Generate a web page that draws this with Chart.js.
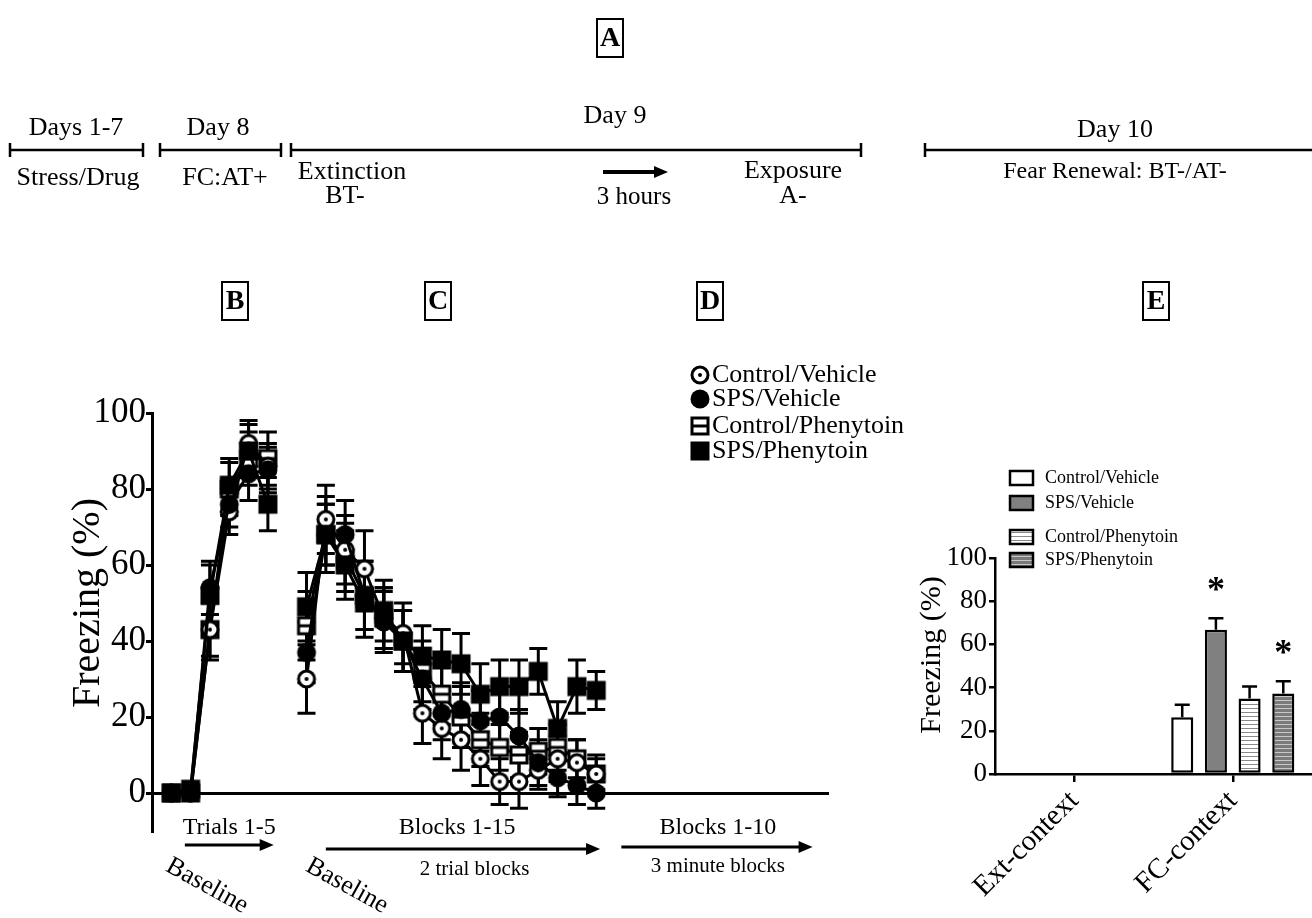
<!DOCTYPE html>
<html>
<head>
<meta charset="utf-8">
<script src="https://cdn.jsdelivr.net/npm/chart.js@4.4.1/dist/chart.umd.min.js"></script>
<style>
html, body { margin: 0; padding: 0; background: #fff; }
#wrap { position: relative; width: 1312px; height: 918px; overflow: hidden; }
#wrap canvas { position: absolute; left: 0; top: 0; }
</style>
</head>
<body>
<div id="wrap">
  <canvas id="graficoLinha" width="1312" height="918"></canvas>
  <canvas id="graficoBarra" width="1312" height="918"></canvas>
</div>
<script>
// posicoes no eixo x: 0 = baseline, 1-5 = trials, 6 = intervalo, 7 = baseline da extincao, 8-22 = blocks 1-15
const slots = [0, 1, 2, 3, 4, 5, 6, 7, 8, 9, 10, 11, 12, 13, 14, 15, 16, 17, 18, 19, 20, 21, 22];
const grupos = ['Control/Vehicle', 'SPS/Vehicle', 'Control/Phenytoin', 'SPS/Phenytoin'];

const controlVehicle   = [0, 0, 43, 74, 92, 86, null, 30, 72, 64, 59, 46, 42, 21, 17, 14, 9, 3, 3, 6, 9, 8, 5];
const spsVehicle       = [0, 0, 54, 76, 84, 85, null, 37, 68, 68, 52, 45, 40, 30, 21, 22, 19, 20, 15, 8, 4, 2, 0];
const controlPhenytoin = [0, 0, 43, 80, 88, 88, null, 44, 68, 62, 52, 46, 40, 32, 26, 20, 14, 12, 10, 11, 12, 9, 5];
const spsPhenytoin     = [0, 1, 52, 81, 90, 76, null, 49, 68, 60, 50, 48, 40, 36, 35, 34, 26, 28, 28, 32, 17, 28, 27];

const erroControlVehicle   = [0, 0, 8, 6, 6, 6, null, 9, 9, 9, 10, 8, 8, 8, 8, 8, 7, 6, 7, 5, 6, 6, 4];
const erroSpsVehicle       = [0, 0, 7, 6, 7, 6, null, 8, 10, 9, 9, 8, 8, 8, 7, 7, 8, 8, 7, 6, 5, 5, 4];
const erroControlPhenytoin = [0, 0, 7, 7, 7, 7, null, 9, 8, 9, 9, 8, 8, 8, 8, 8, 7, 6, 6, 6, 6, 5, 5];
const erroSpsPhenytoin     = [0, 0, 8, 7, 7, 7, null, 9, 8, 9, 9, 8, 8, 8, 8, 8, 8, 7, 7, 6, 7, 7, 5];

const yTicks = [0, 20, 40, 60, 80, 100];

// painel E
const contextos = ['Ext-context', 'FC-context'];
const barControlVehicle   = [null, 26.3];
const barSpsVehicle       = [null, 66.8];
const barControlPhenytoin = [null, 35];
const barSpsPhenytoin     = [null, 37.3];
const erroBarControlVehicle   = [null, 5.8];
const erroBarSpsVehicle       = [null, 5.3];
const erroBarControlPhenytoin = [null, 5.5];
const erroBarSpsPhenytoin     = [null, 5.6];
const marcasSignificancia = [['', ''], ['', '*'], ['', ''], ['', '*']];

const serif = 'Liberation Serif';
Chart.defaults.font.family = serif;
Chart.defaults.color = '#000';

function marcador(tipo) {
    const c = document.createElement('canvas');
    c.width = 22; c.height = 22;
    const g = c.getContext('2d');
    g.lineWidth = 3; g.strokeStyle = '#000'; g.fillStyle = '#000';
    if (tipo === 'circuloAberto') {
        g.beginPath(); g.arc(11, 11, 8, 0, Math.PI * 2);
        g.fillStyle = '#fff'; g.fill(); g.stroke();
        g.beginPath(); g.arc(11, 11, 2, 0, Math.PI * 2);
        g.fillStyle = '#000'; g.fill();
    } else if (tipo === 'circulo') {
        g.beginPath(); g.arc(11, 11, 9.5, 0, Math.PI * 2); g.fill();
    } else if (tipo === 'quadradoAberto') {
        g.fillStyle = '#fff'; g.fillRect(3, 3, 16, 16); g.strokeRect(3, 3, 16, 16);
        g.beginPath(); g.moveTo(3, 11); g.lineTo(19, 11); g.stroke();
    } else {
        g.fillRect(1.5, 1.5, 19, 19);
    }
    return c;
}

function listras(fundo, linha) {
    const c = document.createElement('canvas');
    c.width = 4; c.height = 4;
    const g = c.getContext('2d');
    g.fillStyle = fundo; g.fillRect(0, 0, 4, 4);
    g.fillStyle = linha; g.fillRect(0, 0, 4, 1);
    return g.createPattern(c, 'repeat');
}

const marcas = [marcador('circuloAberto'), marcador('circulo'), marcador('quadradoAberto'), marcador('quadrado')];
const valores = [controlVehicle, spsVehicle, controlPhenytoin, spsPhenytoin];
const erros = [erroControlVehicle, erroSpsVehicle, erroControlPhenytoin, erroSpsPhenytoin];
const ordens = [2, 1, 3, 0];

function texto(ctx, s, x, y, size, opts = {}) {
    ctx.font = (opts.bold ? 'bold ' : '') + size + 'px "' + serif + '"';
    ctx.textAlign = opts.align || 'center';
    ctx.textBaseline = 'middle';
    ctx.fillText(s, x, y);
}

function seta(ctx, x1, x2, y, w) {
    ctx.lineWidth = w;
    ctx.beginPath(); ctx.moveTo(x1, y); ctx.lineTo(x2 - 8, y); ctx.stroke();
    ctx.beginPath(); ctx.moveTo(x2, y); ctx.lineTo(x2 - 14, y - 6); ctx.lineTo(x2 - 14, y + 6); ctx.closePath(); ctx.fill();
}

function segmento(ctx, x1, x2, y, capDireita) {
    ctx.lineWidth = 2.5;
    ctx.beginPath();
    ctx.moveTo(x1, y); ctx.lineTo(x2, y);
    ctx.moveTo(x1, y - 7); ctx.lineTo(x1, y + 7);
    if (capDireita) { ctx.moveTo(x2, y - 7); ctx.lineTo(x2, y + 7); }
    ctx.stroke();
}

function caixaLetra(ctx, letra, cx, cy) {
    ctx.lineWidth = 2;
    ctx.strokeRect(cx - 13, cy - 19, 26, 38);
    texto(ctx, letra, cx, cy + 1, 28, { bold: true });
}

// Barras de erro do grafico de linhas
const barrasErroLinha = {
    id: 'barrasErroLinha',
    beforeDatasetsDraw(chart) {
        const { ctx, scales: { x, y } } = chart;
        ctx.save();
        ctx.strokeStyle = '#000';
        ctx.lineWidth = 3;
        chart.data.datasets.forEach(ds => {
            ds.erros.forEach((e, i) => {
                const v = ds.data[i].y;
                if (v == null || !e) return;
                const px = x.getPixelForValue(ds.data[i].x);
                const topo = y.getPixelForValue(v + e);
                const base = y.getPixelForValue(v - e);
                ctx.beginPath();
                ctx.moveTo(px, topo); ctx.lineTo(px, base);
                ctx.moveTo(px - 9, topo); ctx.lineTo(px + 9, topo);
                ctx.moveTo(px - 9, base); ctx.lineTo(px + 9, base);
                ctx.stroke();
            });
        });
        ctx.restore();
    }
};

// Textos, linha do tempo e legenda
const anotacoes = {
    id: 'anotacoes',
    afterDraw(chart) {
        const ctx = chart.ctx;
        const x = chart.scales.x;
        ctx.save();
        ctx.fillStyle = '#000';
        ctx.strokeStyle = '#000';

        caixaLetra(ctx, 'A', 610, 38);
        caixaLetra(ctx, 'B', 235, 301);
        caixaLetra(ctx, 'C', 438, 301);
        caixaLetra(ctx, 'D', 710, 301);
        caixaLetra(ctx, 'E', 1156, 301);

        segmento(ctx, 10, 143, 150, true);
        segmento(ctx, 160, 281, 150, true);
        segmento(ctx, 291, 861, 150, true);
        segmento(ctx, 925, 1330, 150, false);

        texto(ctx, 'Days 1-7', 76, 128, 26);
        texto(ctx, 'Stress/Drug', 78, 178, 26);
        texto(ctx, 'Day 8', 218, 128, 26);
        texto(ctx, 'FC:AT+', 225, 178, 26);
        texto(ctx, 'Day 9', 615, 116, 26);
        texto(ctx, 'Extinction', 352, 172, 26);
        texto(ctx, 'BT-', 345, 196, 26);
        seta(ctx, 603, 668, 172, 4);
        texto(ctx, '3 hours', 634, 197, 25);
        texto(ctx, 'Exposure', 793, 171, 26);
        texto(ctx, 'A-', 793, 196, 26);
        texto(ctx, 'Day 10', 1115, 130, 26);
        texto(ctx, 'Fear Renewal: BT-/AT-', 1115, 172, 24);

        // legenda
        const linhasLegenda = [375, 399, 426, 451];
        grupos.forEach((g, k) => {
            ctx.drawImage(marcas[k], 700 - 11, linhasLegenda[k] - 11);
            texto(ctx, g, 712, linhasLegenda[k], 26, { align: 'left' });
        });

        // titulo do eixo y
        ctx.save();
        ctx.translate(88, 603);
        ctx.rotate(-Math.PI / 2);
        texto(ctx, 'Freezing (%)', 0, 0, 40);
        ctx.restore();

        // rotulos abaixo do eixo x
        texto(ctx, 'Trials 1-5', x.getPixelForValue(3.0), 828, 24);
        seta(ctx, x.getPixelForValue(0.7), x.getPixelForValue(5.3), 845, 3);
        texto(ctx, 'Blocks 1-15', x.getPixelForValue(14.8), 828, 24);
        seta(ctx, x.getPixelForValue(8.0), x.getPixelForValue(22.2), 849, 3);
        texto(ctx, '2 trial blocks', x.getPixelForValue(15.7), 869, 21);
        texto(ctx, 'Blocks 1-10', x.getPixelForValue(28.3), 828, 24);
        seta(ctx, x.getPixelForValue(23.3), x.getPixelForValue(33.2), 847, 3);
        texto(ctx, '3 minute blocks', x.getPixelForValue(28.3), 866, 21);

        [1.85, 9.1].forEach(s => {
            ctx.save();
            ctx.translate(x.getPixelForValue(s), 886);
            ctx.rotate(29 * Math.PI / 180);
            texto(ctx, 'Baseline', 0, 0, 26);
            ctx.restore();
        });
        ctx.restore();
    }
};

new Chart(document.getElementById('graficoLinha'), {
    type: 'line',
    data: {
        datasets: grupos.map((g, k) => ({
            label: g,
            data: slots.map((s, i) => ({ x: s, y: valores[k][i] })),
            erros: erros[k],
            borderColor: '#000',
            borderWidth: 3,
            pointStyle: marcas[k],
            pointRadius: 10,
            tension: 0,
            spanGaps: false,
            order: ordens[k]
        }))
    },
    options: {
        responsive: false,
        animation: false,
        layout: { padding: { left: 82, top: 413, right: 484, bottom: 87 } },
        plugins: { legend: { display: false }, tooltip: { enabled: false } },
        scales: {
            x: {
                type: 'linear',
                min: -1,
                max: 34,
                position: { y: 0 },
                grid: { display: false, drawTicks: false },
                ticks: { display: false },
                border: { color: '#000', width: 3 },
                afterFit: s => { s.height = 0; }
            },
            y: {
                min: -10,
                max: 100,
                afterBuildTicks: s => { s.ticks = yTicks.map(v => ({ value: v })); },
                grid: { drawOnChartArea: false, tickLength: 6, color: '#000', lineWidth: 3 },
                border: { color: '#000', width: 3 },
                ticks: { font: { size: 35 }, padding: 0, color: '#000' },
                afterFit: s => { s.width = 70; }
            }
        }
    },
    plugins: [barrasErroLinha, anotacoes]
});

// Painel E
const fundos = ['#ffffff', '#808080', listras('#ffffff', '#8a8a8a'), listras('#7a7a7a', '#c8c8c8')];
const barValores = [barControlVehicle, barSpsVehicle, barControlPhenytoin, barSpsPhenytoin];
const barErros = [erroBarControlVehicle, erroBarSpsVehicle, erroBarControlPhenytoin, erroBarSpsPhenytoin];

const extrasBarra = {
    id: 'extrasBarra',
    afterDatasetsDraw(chart) {
        const { ctx, scales: { y } } = chart;
        ctx.save();
        ctx.strokeStyle = '#000';
        ctx.fillStyle = '#000';
        chart.data.datasets.forEach((ds, k) => {
            const meta = chart.getDatasetMeta(k);
            meta.data.forEach((bar, i) => {
                const v = ds.data[i];
                const e = ds.erros[i];
                if (v == null) return;
                const topo = y.getPixelForValue(v + e);
                ctx.lineWidth = 2.5;
                ctx.beginPath();
                ctx.moveTo(bar.x, bar.y); ctx.lineTo(bar.x, topo);
                ctx.moveTo(bar.x - 7.5, topo); ctx.lineTo(bar.x + 7.5, topo);
                ctx.stroke();
                const marca = marcasSignificancia[k][i];
                if (marca) {
                    ctx.font = 'bold 36px "' + serif + '"';
                    ctx.textAlign = 'center';
                    ctx.textBaseline = 'alphabetic';
                    ctx.fillText(marca, bar.x, topo - 17);
                }
            });
        });
        ctx.restore();
    },
    afterDraw(chart) {
        const ctx = chart.ctx;
        ctx.save();
        ctx.fillStyle = '#000';
        ctx.strokeStyle = '#000';
        const linhas = [478, 503, 537, 560];
        grupos.forEach((g, k) => {
            ctx.fillStyle = fundos[k];
            ctx.fillRect(1010, linhas[k] - 7, 23, 14);
            ctx.lineWidth = 2.5;
            ctx.strokeRect(1010, linhas[k] - 7, 23, 14);
            ctx.fillStyle = '#000';
            texto(ctx, g, 1045, linhas[k], 18, { align: 'left' });
        });
        ctx.translate(932, 655);
        ctx.rotate(-Math.PI / 2);
        texto(ctx, 'Freezing (%)', 0, 0, 30);
        ctx.restore();
    }
};

new Chart(document.getElementById('graficoBarra'), {
    type: 'bar',
    data: {
        labels: contextos,
        datasets: grupos.map((g, k) => ({
            label: g,
            data: barValores[k],
            erros: barErros[k],
            backgroundColor: fundos[k],
            borderColor: '#000',
            borderWidth: 2.5,
            borderSkipped: false
        }))
    },
    options: {
        responsive: false,
        animation: false,
        layout: { padding: { left: 920, top: 558, right: 0, bottom: 0 } },
        plugins: { legend: { display: false }, tooltip: { enabled: false } },
        datasets: { bar: { categoryPercentage: 0.85, barPercentage: 0.655 } },
        scales: {
            x: {
                grid: { display: true, drawOnChartArea: false, offset: false, tickLength: 8, color: '#000', lineWidth: 2.5 },
                border: { color: '#000', width: 2.5 },
                ticks: { minRotation: 45, maxRotation: 45, font: { size: 29 }, padding: 2, color: '#000' },
                afterFit: s => { s.height = 144; }
            },
            y: {
                min: 0,
                max: 100,
                afterBuildTicks: s => { s.ticks = yTicks.map(v => ({ value: v })); },
                grid: { drawOnChartArea: false, tickLength: 6, color: '#000', lineWidth: 2.5 },
                border: { color: '#000', width: 2.5 },
                ticks: { font: { size: 27 }, padding: 2, color: '#000' },
                afterFit: s => { s.width = 75; }
            }
        }
    },
    plugins: [extrasBarra]
});
</script>
</body>
</html>
